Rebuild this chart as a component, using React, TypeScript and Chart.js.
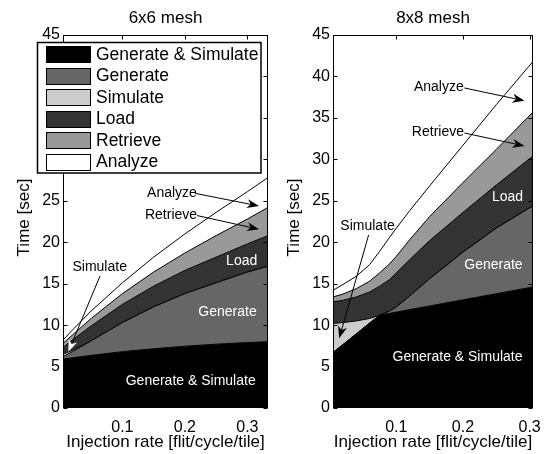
import { useEffect, useRef } from 'react';
import { Chart, registerables } from 'chart.js';

Chart.register(...registerables);

const FONT = '"Liberation Sans", Arial, Helvetica, sans-serif';

// Stack layers, bottom to top
const layerNames = ['Generate & Simulate', 'Generate', 'Simulate', 'Load', 'Retrieve', 'Analyze'];
const layerColors = ['#000000', '#666666', '#cccccc', '#333333', '#999999', '#ffffff'];

const yTicks = [0, 5, 10, 15, 20, 25, 30, 35, 40, 45];
const xTicks = [0.1, 0.2, 0.3];
const xTickLabels = ['0.1', '0.2', '0.3'];

// 6x6 mesh: time per phase [sec] vs injection rate
const rate6 = [0.005, 0.02, 0.05, 0.1, 0.15, 0.2, 0.25, 0.3, 0.333];
const genSim6 = [5.9, 6.05, 6.35, 6.8, 7.15, 7.45, 7.7, 7.9, 8.0];
const generate6 = [0.3, 0.75, 1.75, 3.5, 5.05, 6.35, 7.4, 8.5, 9.1];
const simulate6 = [0.3, 0.15, 0, 0, 0, 0, 0, 0, 0];
const load6 = [0.8, 1.25, 1.8, 2.2, 2.5, 2.8, 3.1, 3.4, 3.7];
const retrieve6 = [0.5, 0.6, 0.9, 1.3, 1.7, 2.1, 2.6, 3.0, 3.4];
const analyze6 = [0.4, 0.6, 0.9, 1.3, 1.8, 2.3, 2.8, 3.3, 3.6];

// 8x8 mesh: time per phase [sec] vs injection rate
const rate8 = [0.005, 0.02, 0.04, 0.06, 0.075, 0.09, 0.1, 0.12, 0.15, 0.2, 0.25, 0.305];
const genSim8 = [6.7, 7.65, 8.95, 10.25, 11.2, 11.42, 11.57, 11.87, 12.31, 13.05, 13.79, 14.6];
const generate8 = [0, 0, 0, 0, 0, 0.28, 0.63, 1.63, 3.29, 5.75, 7.91, 9.8];
const simulate8 = [3.5, 2.65, 1.55, 0.55, 0, 0, 0, 0, 0, 0, 0, 0];
const load8 = [2.6, 2.7, 2.9, 3.2, 3.5, 3.8, 4.1, 4.4, 4.6, 4.8, 5.2, 6.0];
const retrieve8 = [0.6, 0.75, 1.0, 1.3, 1.6, 1.9, 2.0, 2.4, 2.9, 3.6, 4.3, 5.3];
const analyze8 = [0.8, 1.15, 1.5, 2.0, 2.6, 3.2, 3.4, 3.5, 3.7, 4.5, 5.4, 6.1];

type Note = { text: string; at: [number, number]; from: [number, number]; to: [number, number]; head: string };
type Tag = { text: string; at: [number, number] };

type Panel = {
  title: string;
  rates: number[];
  layers: number[][];
  xMin: number;
  xMax: number;
  left: number;
  width: number;
  legend: boolean;
  notes: Note[];
  tags: Tag[];
};

const panels: Panel[] = [
  {
    title: '6x6 mesh',
    rates: rate6,
    layers: [genSim6, generate6, simulate6, load6, retrieve6, analyze6],
    xMin: 0.005,
    xMax: 0.333,
    left: 0,
    width: 270,
    legend: true,
    notes: [
      { text: 'Analyze', at: [0.1794, 25.94], from: [0.2162, 25.9], to: [0.3186, 24.37], head: '#000' },
      { text: 'Retrieve', at: [0.1778, 23.28], from: [0.2194, 23.22], to: [0.3186, 21.56], head: '#000' },
      { text: 'Simulate', at: [0.0637, 16.95], from: [0.0642, 15.92], to: [0.0135, 6.79], head: '#fff' },
    ],
    tags: [
      { text: 'Load', at: [0.2909, 17.73] },
      { text: 'Generate', at: [0.2682, 11.62] },
      { text: 'Generate & Simulate', at: [0.2093, 3.26] },
    ],
  },
  {
    title: '8x8 mesh',
    rates: rate8,
    layers: [genSim8, generate8, simulate8, load8, retrieve8, analyze8],
    xMin: 0.005,
    xMax: 0.305,
    left: 270,
    width: 281,
    legend: false,
    notes: [
      { text: 'Analyze', at: [0.1638, 38.67], from: [0.2021, 38.61], to: [0.2922, 37.07], head: '#000' },
      { text: 'Retrieve', at: [0.1624, 33.24], from: [0.2021, 33.18], to: [0.2922, 31.61], head: '#000' },
      { text: 'Simulate', at: [0.0569, 21.98], from: [0.0584, 20.87], to: [0.0143, 8.41], head: '#000' },
    ],
    tags: [
      { text: 'Load', at: [0.2668, 25.4] },
      { text: 'Generate', at: [0.2457, 17.25] },
      { text: 'Generate & Simulate', at: [0.1918, 6.09] },
    ],
  },
];

function drawArrow(ctx: CanvasRenderingContext2D, x1: number, y1: number, x2: number, y2: number, head: string) {
  const a = Math.atan2(y2 - y1, x2 - x1);
  const c = Math.cos(a);
  const s = Math.sin(a);
  const len = 12;
  const half = 4.5;
  const notch = 3.5;
  const bx = x2 - len * c;
  const by = y2 - len * s;
  const nx = x2 - (len - notch) * c;
  const ny = y2 - (len - notch) * s;
  ctx.strokeStyle = '#000';
  ctx.lineWidth = 1;
  ctx.beginPath();
  ctx.moveTo(x1, y1);
  ctx.lineTo(nx, ny);
  ctx.stroke();
  ctx.beginPath();
  ctx.moveTo(x2, y2);
  ctx.lineTo(bx + half * s, by - half * c);
  ctx.lineTo(nx, ny);
  ctx.lineTo(bx - half * s, by + half * c);
  ctx.closePath();
  ctx.fillStyle = head;
  ctx.fill();
}

function makePlugin(panel: Panel) {
  return {
    id: 'meshDecor',
    afterDatasetsDraw(chart: any) {
      const ctx: CanvasRenderingContext2D = chart.ctx;
      const { left, right, top, bottom } = chart.chartArea;
      const xs = chart.scales.x;
      const ys = chart.scales.y;
      ctx.save();

      // area labels
      ctx.fillStyle = '#fff';
      ctx.font = `14px ${FONT}`;
      ctx.textAlign = 'center';
      ctx.textBaseline = 'middle';
      for (const t of panel.tags) {
        ctx.fillText(t.text, xs.getPixelForValue(t.at[0]), ys.getPixelForValue(t.at[1]));
      }

      // axes box with inward ticks
      ctx.strokeStyle = '#000';
      ctx.lineWidth = 1;
      const L = Math.round(left) + 0.5;
      const R = Math.round(right) - 0.5;
      const T = Math.round(top) + 0.5;
      const B = Math.round(bottom) - 0.5;
      ctx.strokeRect(L, T, R - L, B - T);
      ctx.beginPath();
      for (const v of xTicks) {
        const p = Math.round(xs.getPixelForValue(v)) + 0.5;
        ctx.moveTo(p, B);
        ctx.lineTo(p, B - 4);
        ctx.moveTo(p, T);
        ctx.lineTo(p, T + 4);
      }
      for (const v of yTicks) {
        const p = Math.round(ys.getPixelForValue(v)) + 0.5;
        ctx.moveTo(L, p);
        ctx.lineTo(L + 4, p);
        ctx.moveTo(R, p);
        ctx.lineTo(R - 4, p);
      }
      ctx.stroke();

      // callouts
      ctx.font = `14px ${FONT}`;
      for (const n of panel.notes) {
        ctx.fillStyle = '#000';
        ctx.fillText(n.text, xs.getPixelForValue(n.at[0]), ys.getPixelForValue(n.at[1]));
        drawArrow(
          ctx,
          xs.getPixelForValue(n.from[0]),
          ys.getPixelForValue(n.from[1]),
          xs.getPixelForValue(n.to[0]),
          ys.getPixelForValue(n.to[1]),
          n.head,
        );
      }
      ctx.restore();
    },
    afterDraw(chart: any) {
      const ctx: CanvasRenderingContext2D = chart.ctx;
      const { left, right, top, bottom } = chart.chartArea;
      const cx = (left + right) / 2;
      ctx.save();
      ctx.fillStyle = '#000';
      ctx.textAlign = 'center';
      ctx.textBaseline = 'middle';
      ctx.font = `17px ${FONT}`;
      ctx.fillText(panel.title, cx, 18);
      ctx.fillText('Injection rate [flit/cycle/tile]', cx, 442);
      ctx.translate(24, (top + bottom) / 2 - 4);
      ctx.rotate(-Math.PI / 2);
      ctx.fillText('Time [sec]', 0, 0);
      ctx.restore();

      if (panel.legend) {
        ctx.save();
        ctx.fillStyle = '#fff';
        ctx.fillRect(37.5, 42.5, 223.5, 130.5);
        ctx.strokeStyle = '#000';
        ctx.lineWidth = 1.5;
        ctx.strokeRect(37.5, 42.5, 223.5, 130.5);
        ctx.font = `17.5px ${FONT}`;
        ctx.textAlign = 'left';
        ctx.textBaseline = 'middle';
        ctx.lineWidth = 1;
        layerNames.forEach((name, i) => {
          const cy = 54 + i * 21.5;
          ctx.fillStyle = layerColors[i];
          ctx.fillRect(46.5, Math.round(cy - 8) + 0.5, 44, 16);
          ctx.strokeStyle = '#000';
          ctx.strokeRect(46.5, Math.round(cy - 8) + 0.5, 44, 16);
          ctx.fillStyle = '#000';
          ctx.fillText(name, 96, cy + 1);
        });
        ctx.restore();
      }
    },
  };
}

function MeshChart({ panel }: { panel: Panel }) {
  const ref = useRef<HTMLCanvasElement | null>(null);

  useEffect(() => {
    if (!ref.current) return;
    const plotRight = panel.legend ? 268 : 267;
    const chart = new Chart(ref.current, {
      type: 'line',
      data: {
        datasets: panel.layers.map((vals, i) => ({
          label: layerNames[i],
          data: panel.rates.map((x, j) => ({ x, y: vals[j] })),
          backgroundColor: layerColors[i],
          borderColor: '#000',
          borderWidth: 1,
          pointRadius: 0,
          tension: 0,
          fill: i === 0 ? 'origin' : '-1',
        })),
      },
      options: {
        animation: false,
        responsive: false,
        devicePixelRatio: 1,
        layout: { padding: { top: 35, left: 0, right: panel.width - plotRight, bottom: 0 } },
        plugins: {
          legend: { display: false },
          tooltip: { enabled: false },
          title: { display: false },
        },
        scales: {
          x: {
            type: 'linear',
            min: panel.xMin,
            max: panel.xMax,
            grid: { display: false, drawTicks: false },
            border: { display: false },
            ticks: {
              color: '#000',
              font: { family: FONT, size: 16 },
              padding: 10,
              maxRotation: 0,
              callback: (_v: any, i: number) => xTickLabels[i],
            },
            afterBuildTicks: (s: any) => {
              s.ticks = xTicks.map((value) => ({ value }));
            },
            afterFit: (s: any) => {
              s.height = 46;
            },
          },
          y: {
            type: 'linear',
            stacked: true,
            min: 0,
            max: 45,
            grid: { display: false, drawTicks: false },
            border: { display: false },
            ticks: {
              color: '#000',
              font: { family: FONT, size: 16 },
              padding: 3,
              callback: (v: any) => String(v),
            },
            afterBuildTicks: (s: any) => {
              s.ticks = yTicks.map((value) => ({ value }));
            },
            afterFit: (s: any) => {
              s.width = 63;
            },
          },
        },
      } as any,
      plugins: [makePlugin(panel)],
    });
    return () => chart.destroy();
  }, [panel]);

  return (
    <canvas
      ref={ref}
      width={panel.width}
      height={454}
      style={{ position: 'absolute', left: panel.left, top: 0, width: panel.width, height: 454, display: 'block' }}
    />
  );
}

export default function App() {
  return (
    <div style={{ position: 'absolute', left: 0, top: 0, width: 551, height: 454, background: '#fff' }}>
      {panels.map((p) => (
        <MeshChart key={p.title} panel={p} />
      ))}
    </div>
  );
}
